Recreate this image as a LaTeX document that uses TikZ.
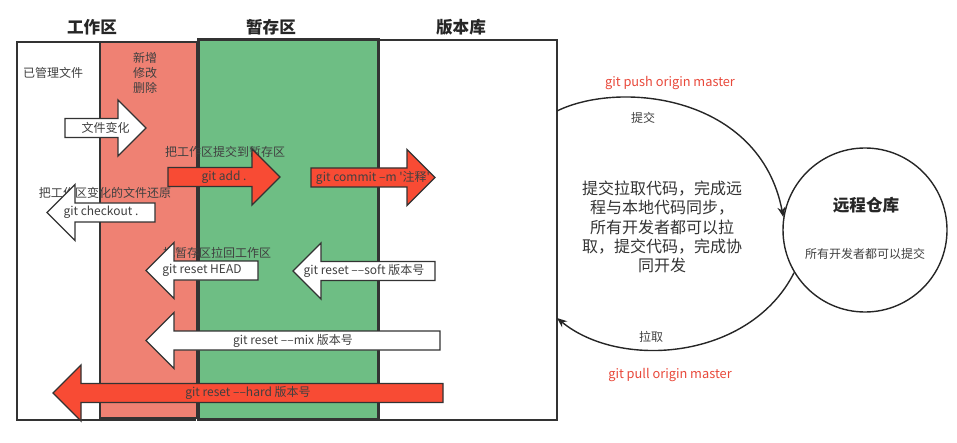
\documentclass[tikz,border=0pt]{standalone}
\usepackage{fontspec}
\setmainfont{Noto Sans CJK SC}
\usetikzlibrary{arrows.meta}
\definecolor{workRed}{HTML}{EF8173}
\definecolor{stageGreen}{HTML}{6EBE84}
\definecolor{cmdRed}{HTML}{F84B34}
\definecolor{labelRed}{HTML}{E8483A}
\definecolor{lineGray}{HTML}{333333}

% block arrow: name, tail x, tip x, y, fill, label
\newcommand{\blockarrow}[6]{%
  \pgfmathsetmacro\headx{#3+(#2<#3 ? -28 : 28)}
  \draw[arrowline, fill=#5] (#2,#4-9.5) -- (\headx,#4-9.5) -- (\headx,#4-28) -- (#3,#4)
    -- (\headx,#4+28) -- (\headx,#4+9.5) -- (#2,#4+9.5) -- cycle;
  \node[small] (#1) at ({(#2+#3)/2},#4) {#6};
}

\begin{document}
\begin{tikzpicture}[x=0.5pt, y=-0.5pt,
    small/.style={font=\fontsize{6}{7.4}\selectfont, text=black!75, inner sep=0pt},
    title/.style={font=\fontsize{8.3}{10}\selectfont\bfseries, text=black!85, inner sep=0pt},
    redcmd/.style={font=\fontsize{6.4}{7.6}\selectfont, text=labelRed, inner sep=0pt},
    arrowline/.style={draw=lineGray, line width=0.7pt},
    flow/.style={draw=black!85, line width=0.7pt, -{Stealth[length=5pt, width=4pt]}}]
  \useasboundingbox (0,0) rectangle (957,443);

  % areas
  \draw[lineGray, line width=0.8pt, fill=white] (17,42) rectangle (195,420);
  \draw[lineGray, line width=0.7pt, fill=workRed] (100,42) rectangle (197,418);
  \draw[lineGray, line width=1.5pt, fill=stageGreen] (198,40) rectangle (378,419);
  \draw[lineGray, line width=0.8pt] (378,40) rectangle (557,420);

  \node[title] (work) at (92,27) {工作区};
  \node[title] (stage) at (271,27) {暂存区};
  \node[title] (repo) at (461,27) {版本库};

  \node[small] (managed) at (53,73) {已管理文件};
  \node[small, align=center] (changes) at (145,73) {新增\\修改\\删除};
  \node[small] (addnote) at (225,152) {把工作区提交到暂存区};
  \node[small] (checkoutnote) at (105,193) {把工作区变化的文件还原};
  \node[small] (resetnote) at (217,253) {把暂存区拉回工作区};

  % block arrows
  \blockarrow{filechange}{65}{146}{128}{white}{文件变化}
  \blockarrow{add}{168}{280}{177}{cmdRed}{git add .}
  \blockarrow{commit}{311}{435}{177.5}{cmdRed}{git commit --m \textquotesingle 注释\textquotesingle}
  \blockarrow{checkout}{155}{47}{212.5}{white}{git checkout .}
  \blockarrow{resethead}{258}{146}{270.5}{white}{git reset HEAD}
  \blockarrow{resetsoft}{435}{293}{271}{white}{git reset --{}--soft 版本号}
  \blockarrow{resetmix}{440}{146}{340.5}{white}{git reset --{}--mix 版本号}
  \blockarrow{resethard}{443}{53}{393}{cmdRed}{git reset --{}--hard 版本号}

  % remote
  \node[circle, draw=black!85, line width=0.7pt, minimum size=82pt, inner sep=0pt] (remote) at (865,230) {};
  \node[title] (remotetitle) at (866,205) {远程仓库};
  \node[small] (remotenote) at (865,254) {所有开发者都可以提交};

  \coordinate (pushout) at (557,111);
  \coordinate (pullin) at (557,318);
  \draw[flow] (pushout) .. controls (620,80) and (760,95) .. (remote.171);
  \draw[flow] (remote.211) .. controls (750,360) and (620,370) .. (pullin);

  \node[redcmd] (push) at (670,83) {git push origin master};
  \node[small] (pushlabel) at (643,118) {提交};
  \node[small] (pulllabel) at (651,337) {拉取};
  \node[redcmd] (pull) at (670,375) {git pull origin master};
  \node[align=center, font=\fontsize{8}{9.65}\selectfont, text=black!80, inner sep=0pt] (sync) at (662,227)
    {提交拉取代码，完成远\\程与本地代码同步，\\所有开发者都可以拉\\取，提交代码，完成协\\同开发};
\end{tikzpicture}
\end{document}
